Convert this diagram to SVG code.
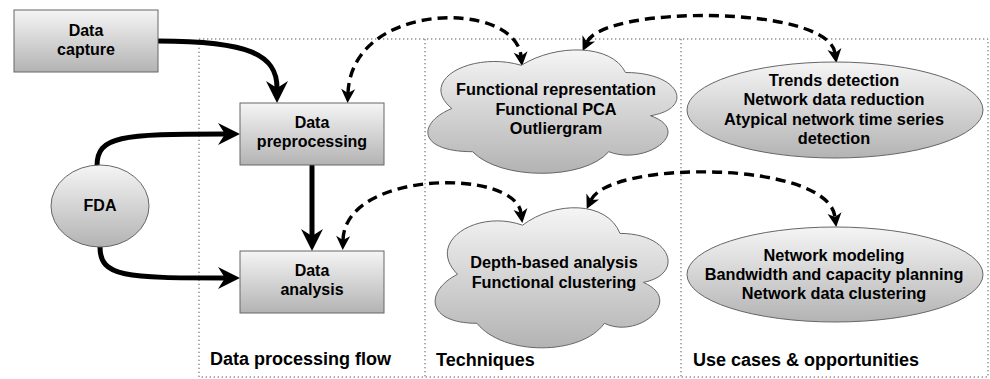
<svg xmlns="http://www.w3.org/2000/svg" width="990" height="379" viewBox="0 0 990 379">
  <style>
    .shape { fill: url(#grey); stroke: #666666; stroke-width: 1; }
    .label { font-family: "Liberation Sans", Arial, sans-serif; font-weight: bold; font-size: 16px; fill: #000000; text-anchor: middle; }
    .big { font-size: 16.3px; }
    .title { font-family: "Liberation Sans", Arial, sans-serif; font-weight: bold; font-size: 18px; fill: #000000; }
    .frame { fill: none; stroke: #555555; stroke-width: 1; stroke-dasharray: 1.3 2.7; }
    .solid { fill: none; stroke: #000000; stroke-width: 5; marker-end: url(#head); }
    .dashed { fill: none; stroke: #000000; stroke-width: 3.4; stroke-dasharray: 10 6; marker-start: url(#headThin); marker-end: url(#headThin); }
  </style>
  <defs>
    <linearGradient id="grey" x1="0" y1="0" x2="0" y2="1">
      <stop offset="0" stop-color="#f5f5f5"/>
      <stop offset="1" stop-color="#b3b3b3"/>
    </linearGradient>
    <marker id="head" markerUnits="userSpaceOnUse" markerWidth="22" markerHeight="22" refX="7" refY="11" orient="auto" overflow="visible">
      <path d="M22,11 L0,0 L7,11 L0,22 Z" fill="#000000"/>
    </marker>
    <marker id="headThin" markerUnits="userSpaceOnUse" markerWidth="14" markerHeight="14" refX="4" refY="7" orient="auto-start-reverse" overflow="visible">
      <path d="M14,7 L0,0 L4,7 L0,14 Z" fill="#000000"/>
    </marker>
  </defs>

  <!-- section frames -->
  <g id="frames">
    <rect class="frame" x="199" y="39" width="789" height="338"/>
    <line class="frame" x1="425" y1="39" x2="425" y2="377"/>
    <line class="frame" x1="681" y1="39" x2="681" y2="377"/>
    <text class="title" x="210" y="365">Data processing flow</text>
    <text class="title" x="436" y="366">Techniques</text>
    <text class="title" x="693" y="366">Use cases &amp; opportunities</text>
  </g>

  <!-- connectors -->
  <g id="connectors">
    <path class="solid" d="M158,41 C250,41 277,55 277,88"/>
    <path class="solid" d="M97,166 C97,136 120,134 225,134"/>
    <path class="solid" d="M100,247 C100,277 125,278 225,278"/>
    <path class="solid" d="M312,165 L312,236"/>
    <path class="dashed" d="M348,93 C352,0 515,0 521,56"/>
    <path class="dashed" d="M587,42 C605,5 828,5 835,53"/>
    <path class="dashed" d="M343,240 C345,170 515,168 521,213"/>
    <path class="dashed" d="M591,200 C610,160 828,160 835,217"/>
  </g>

  <g id="data-capture">
    <rect class="shape" x="14" y="10" width="144" height="62"/>
    <text class="label" x="86" y="36">Data</text>
    <text class="label" x="86" y="55">capture</text>
  </g>

  <g id="data-preprocessing">
    <rect class="shape" x="240" y="103" width="144" height="62"/>
    <text class="label" x="312" y="128">Data</text>
    <text class="label" x="312" y="147">preprocessing</text>
  </g>

  <g id="data-analysis">
    <rect class="shape" x="240" y="251" width="144" height="62"/>
    <text class="label" x="312" y="276">Data</text>
    <text class="label" x="312" y="295">analysis</text>
  </g>

  <g id="fda">
    <ellipse class="shape" cx="100" cy="206" rx="49" ry="41"/>
    <text class="label" x="100" y="211">FDA</text>
  </g>

  <g id="techniques-functional">
    <path class="shape" d="M625.5,72.5 C681.1,72.5 695,108.5 650.5,115.7 C695,131.5 645,166.1 608.8,151.7 C583.8,180.5 500.4,180.5 472.6,151.7 C417,151.7 417,122.9 451.8,108.5 C417,79.7 472.6,50.9 521.3,65.3 C556,43.7 611.6,43.7 625.5,72.5 Z"/>
    <text class="label big" x="556" y="95">Functional representation</text>
    <text class="label big" x="556" y="115">Functional PCA</text>
    <text class="label big" x="556" y="134">Outliergram</text>
  </g>

  <g id="techniques-depth">
    <path class="shape" d="M620,233.4 C672,233.4 685,274.3 643.4,282.4 C685,300.4 638.2,339.7 604.4,323.3 C581,356 503,356 477,323.3 C425,323.3 425,290.6 457.5,274.3 C425,241.6 477,208.9 522.5,225.2 C555,200.7 607,200.7 620,233.4 Z"/>
    <text class="label big" x="554" y="268">Depth-based analysis</text>
    <text class="label big" x="554" y="288">Functional clustering</text>
  </g>

  <g id="use-cases-detection">
    <ellipse class="shape" cx="835" cy="110" rx="148" ry="48"/>
    <text class="label big" x="834" y="85.5">Trends detection</text>
    <text class="label big" x="834" y="105">Network data reduction</text>
    <text class="label big" x="834" y="124.5">Atypical network time series</text>
    <text class="label big" x="834" y="144">detection</text>
  </g>

  <g id="use-cases-modeling">
    <ellipse class="shape" cx="835" cy="274.5" rx="148" ry="47.5"/>
    <text class="label big" x="834" y="261">Network modeling</text>
    <text class="label big" x="834" y="280">Bandwidth and capacity planning</text>
    <text class="label big" x="834" y="299">Network data clustering</text>
  </g>
</svg>
